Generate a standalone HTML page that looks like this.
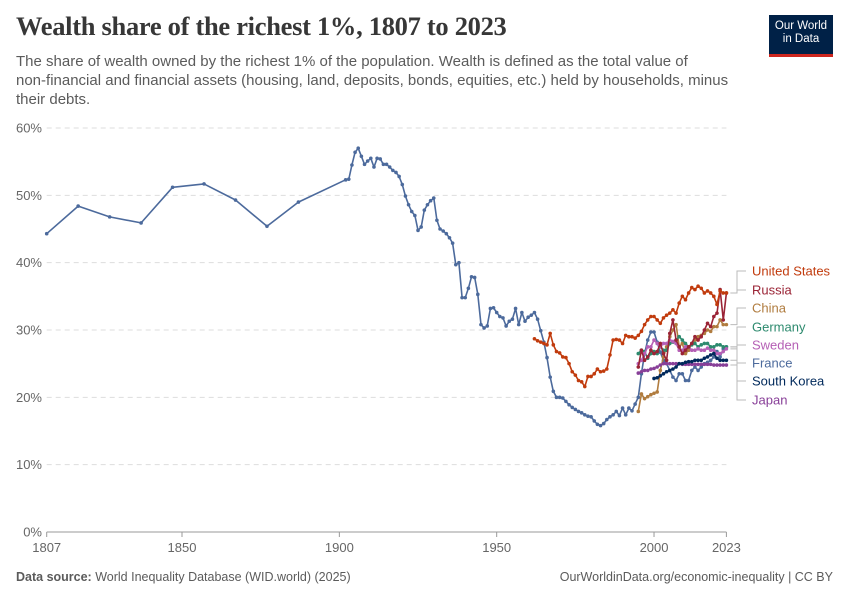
<!DOCTYPE html>
<html><head><meta charset="utf-8"><style>
body{margin:0;background:#fff;width:850px;height:600px;overflow:hidden;font-family:"Liberation Sans",sans-serif;}
#title{position:absolute;left:16px;top:11px;font-family:"Liberation Serif",serif;font-size:26.5px;color:#373737;margin:0;font-weight:bold;letter-spacing:-0.3px}
#sub{position:absolute;left:16px;top:52px;font-size:15px;line-height:19px;color:#5b5b5b;letter-spacing:0px;white-space:nowrap}
#logo{position:absolute;left:769px;top:15px;width:64px;height:37px;background:#002147;border-bottom:3px solid #ce261e;color:#fff;font-size:11.5px;line-height:13px;text-align:center;padding-top:2px;box-sizing:content-box}
#logo div{padding-top:3px}
.foot{position:absolute;top:570px;font-size:12.5px;color:#5b5b5b}
svg{position:absolute;left:0;top:0}
</style></head><body>
<h1 id="title">Wealth share of the richest 1%, 1807 to 2023</h1>
<div id="sub">The share of wealth owned by the richest 1% of the population. Wealth is defined as the total value of<br>non-financial and financial assets (housing, land, deposits, bonds, equities, etc.) held by households, minus<br>their debts.</div>
<div id="logo"><div>Our World<br>in Data</div></div>
<div class="foot" style="left:16px"><b>Data source:</b> World Inequality Database (WID.world) (2025)</div>
<div class="foot" style="right:17px">OurWorldinData.org/economic-inequality | CC BY</div>
<svg id="chart" width="850" height="600"></svg>
<script>
const yTicks=[0,10,20,30,40,50,60];
const xTicks=[1807,1850,1900,1950,2000,2023];
const franceYears=[1807,1817,1827,1837,1847,1857,1867,1877,1887,1902].concat(Array.from({length:121},(_, i)=>1903+i));
const franceVals=[44.3,48.4,46.8,45.9,51.2,51.7,49.3,45.4,49.0,52.3,
52.4,54.5,56.4,57.0,55.8,54.6,55.1,55.5,54.2,55.5,55.4,54.6,54.6,54.2,53.7,53.4,52.8,51.6,49.9,48.6,47.6,47.0,44.8,45.3,47.8,48.6,49.2,49.6,46.3,45.0,44.7,44.3,43.7,42.9,39.7,40.0,34.8,34.8,36.2,37.9,37.8,35.3,30.8,30.3,30.6,33.2,33.3,32.6,32.0,31.8,30.6,31.3,31.6,33.2,30.8,32.6,31.3,31.9,32.2,32.6,31.6,29.9,28.2,25.9,23.0,20.9,20.0,20.0,19.9,19.4,18.9,18.5,18.2,17.9,17.7,17.4,17.2,17.1,16.5,16.0,15.8,16.1,16.7,17.1,17.4,17.9,17.3,18.4,17.4,18.4,18.0,19.0,20.0,23.5,26.5,28.5,29.7,29.7,28.2,26.7,25.5,25.0,24.0,23.0,22.5,23.5,23.5,22.5,22.5,24.0,24.5,24.0,24.5,25.0,25.2,25.5,26.0,26.8,26.0,27.2,27.5];
const usStart=1962;
const usVals=[28.7,28.4,28.2,28.0,27.8,29.5,27.8,26.8,26.6,26.0,25.9,25.0,23.8,23.3,22.5,22.3,21.6,23.1,23.1,23.5,24.2,23.8,23.9,24.2,26.3,28.5,28.6,28.5,28.0,29.2,29.0,29.0,28.8,29.2,29.8,30.8,31.5,32.0,32.0,31.5,31.0,31.8,32.2,32.5,33.0,32.5,34.0,35.0,34.5,35.5,36.3,36.0,36.5,36.2,35.5,35.8,35.5,35.0,33.8,35.8,35.5,35.5];
const russiaStart=1995;
const russiaVals=[24.5,27.0,25.5,26.0,27.0,26.5,26.8,28.0,26.5,25.5,29.5,31.5,28.5,27.5,26.5,27.0,27.5,28.0,29.0,28.5,29.0,30.0,31.0,30.5,32.0,32.5,36.0,31.5,35.5];
const chinaStart=1995;
const chinaVals=[17.9,20.5,19.8,20.1,20.4,20.6,20.8,24.0,26.0,27.5,29.0,30.0,30.8,27.5,28.0,26.5,27.0,28.0,28.5,29.0,29.2,29.5,30.0,29.8,30.5,30.5,31.5,30.8,30.8];
const germanyStart=1995;
const germanyVals=[26.5,27.0,26.8,25.8,26.5,26.8,26.5,27.5,27.0,27.0,28.0,28.2,28.5,29.0,28.5,28.0,27.5,27.8,28.0,27.5,27.8,28.0,28.0,27.5,27.5,27.8,27.8,27.5,27.5];
const swedenStart=1995;
const swedenVals=[25.0,25.5,26.5,27.5,27.5,28.5,28.0,27.5,28.0,28.0,28.5,28.3,28.0,27.0,27.0,27.5,27.5,27.0,27.0,27.2,27.0,27.0,27.3,27.0,27.0,26.5,26.5,26.8,27.2];
const koreaStart=2000;
const koreaVals=[22.8,22.9,23.2,23.5,23.8,24.0,24.2,24.5,25.0,25.0,25.2,25.3,25.3,25.5,25.5,25.5,25.8,26.0,26.3,26.5,25.8,25.5,25.5,25.5];
const japanStart=1995;
const japanVals=[23.6,23.8,24.0,24.0,24.2,24.3,24.5,24.8,25.0,25.0,25.0,25.0,25.0,25.0,24.9,24.9,24.9,24.9,24.9,24.9,24.9,24.9,24.9,24.9,24.8,24.8,24.8,24.8,24.8];

const NS="http://www.w3.org/2000/svg";
const svg=document.getElementById('chart');
const X0=46.7,X1=726.4,Y0=532,Y60=128;
const xs=y=>X0+(y-1807)/(2023-1807)*(X1-X0);
const ys=v=>Y0-v/60*(Y0-Y60);
function mk(t,a,p){const e=document.createElementNS(NS,t);for(const k in a)e.setAttribute(k,a[k]);(p||svg).appendChild(e);return e;}
yTicks.forEach(v=>{
 const l=mk('line',{x1:X0,x2:X1,y1:ys(v),y2:ys(v),stroke:v===0?'#999':'#ddd','stroke-dasharray':v===0?'':'5,4'});
 
 
 const t=mk('text',{x:42,y:ys(v)+4.5,'text-anchor':'end','font-size':13,fill:'#666','font-family':'Liberation Sans'});
 t.textContent=v+'%';
 
 
});
xTicks.forEach(yr=>{
 mk('line',{x1:xs(yr),x2:xs(yr),y1:Y0,y2:Y0+5,stroke:'#999'});
 const t=mk('text',{x:xs(yr),y:Y0+20,'text-anchor':'middle','font-size':13,fill:'#666','font-family':'Liberation Sans'});
 t.textContent=yr;
 
 
});
function series(name,col,years,vals,labelY){
 const g=mk('g',{});
 
 
 const pts=vals.map((v,i)=>xs(years[i]).toFixed(1)+','+ys(v).toFixed(1)).join(' ');
 mk('polyline',{points:pts,fill:'none',stroke:col,'stroke-width':1.6,'stroke-linejoin':'round'},g);
 vals.forEach((v,i)=>{const c=mk('circle',{cx:xs(years[i]),cy:ys(v),r:1.8,fill:col},g);
  
  });
 const ly=ys(vals[vals.length-1]);
 mk('path',{d:`M${X1+4},${ly} H737 V${labelY} H746`,fill:'none',stroke:'#bbb','stroke-width':1},g);
 const t=mk('text',{x:752,y:labelY+4.5,'font-size':13,fill:col,'font-family':'Liberation Sans'},g);
 t.textContent=name;
 
 
}
const yrs=(s,n)=>Array.from({length:n},(_,i)=>s+i);
series('France','#4c6a9c',franceYears,franceVals,363);
series('China','#b07c3f',yrs(chinaStart,chinaVals.length),chinaVals,308);
series('Germany','#2d8a6e',yrs(germanyStart,germanyVals.length),germanyVals,327);
series('Sweden','#b55fb5',yrs(swedenStart,swedenVals.length),swedenVals,345);
series('Japan','#883f98',yrs(japanStart,japanVals.length),japanVals,400);
series('South Korea','#00295b',yrs(koreaStart,koreaVals.length),koreaVals,381);
series('Russia','#9a2335',yrs(russiaStart,russiaVals.length),russiaVals,290);
series('United States','#c13b0d',yrs(usStart,usVals.length),usVals,271);
</script>
</body></html>
